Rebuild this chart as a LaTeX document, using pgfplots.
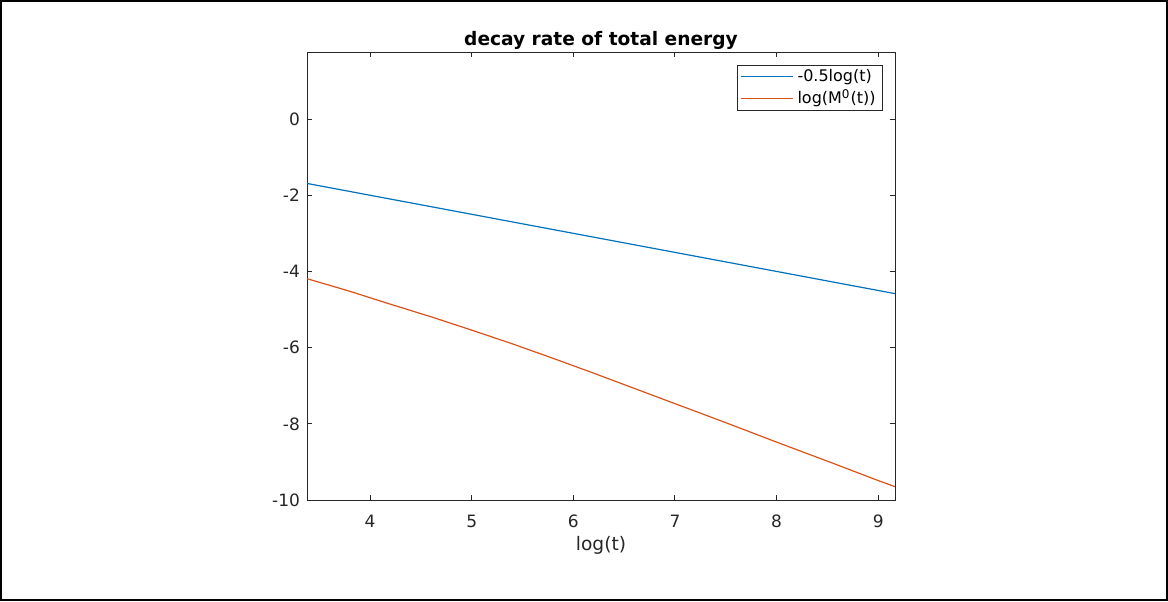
\documentclass[border=0pt]{standalone}
\usepackage{pgfplots}
\pgfplotsset{compat=1.18}
\usepackage{fontspec}
\setmainfont{DejaVu Sans}
\definecolor{mlBlue}{rgb}{0,0.447,0.741}
\definecolor{mlOrange}{rgb}{0.85,0.325,0.098}
\definecolor{mlAxis}{rgb}{0.15,0.15,0.15}
\begin{document}
\begin{tikzpicture}
% picture frame, 1px = 0.5pt
\useasboundingbox (0,0) rectangle (584pt,300.5pt);
\draw[line width=0.8pt] (0.4pt,0.4pt) rectangle (583.6pt,300.1pt);
\begin{axis}[
    at={(153.5pt,50.5pt)}, anchor=south west,
    scale only axis,
    width=294pt, height=224pt,
    xmin=3.38, xmax=9.165,
    ymin=-10, ymax=1.76,
    xtick={4,5,6,7,8,9},
    ytick={-10,-8,-6,-4,-2,0},
    axis line style={mlAxis, line width=0.5pt},
    tick style={mlAxis, line width=0.5pt},
    major tick length=2.5pt,
    tick align=inside,
    ticklabel style={font=\fontsize{8.5}{10}\selectfont, text=mlAxis},
    xticklabel style={yshift=-4pt},
    /pgf/number format/assume math mode=true,
    title={decay rate of total energy},
    title style={font=\bfseries\fontsize{9.3}{11}\selectfont, at={(0.5,1)}, anchor=south, yshift=-8.5pt},
    xlabel={log(t)},
    xlabel style={font=\fontsize{9.3}{11}\selectfont, text=mlAxis, at={(axis description cs:0.5,0)}, anchor=center, yshift=-22.5pt},
    legend style={at={(rel axis cs:1,1)}, anchor=north east, xshift=-6pt, yshift=-6.5pt,
        draw=mlAxis, font=\fontsize{8}{9}\selectfont, text=black,
        inner xsep=1.5pt, inner ysep=0.5pt, nodes={inner ysep=1.3pt}},
    legend cell align=left,
    legend image code/.code={\draw[#1] (0pt,0pt) -- (26pt,0pt);},
]
\addplot[mlBlue, line width=0.6pt] coordinates {
(3.38,-1.69) (9.165,-4.5825)
};
\addplot[mlOrange, line width=0.6pt] coordinates {
(3.38,-4.19) (3.8,-4.52) (4.2,-4.86) (4.6,-5.19) (5.0,-5.54) (5.4,-5.90)
(5.8,-6.28) (6.2,-6.67) (6.6,-7.07) (7.0,-7.47) (7.5,-7.97) (8.0,-8.48)
(8.5,-8.98) (9.0,-9.49) (9.165,-9.65)
};
\legend{-0.5log(t), log(M\textsuperscript{0}(t))}
\end{axis}
\end{tikzpicture}
\end{document}
